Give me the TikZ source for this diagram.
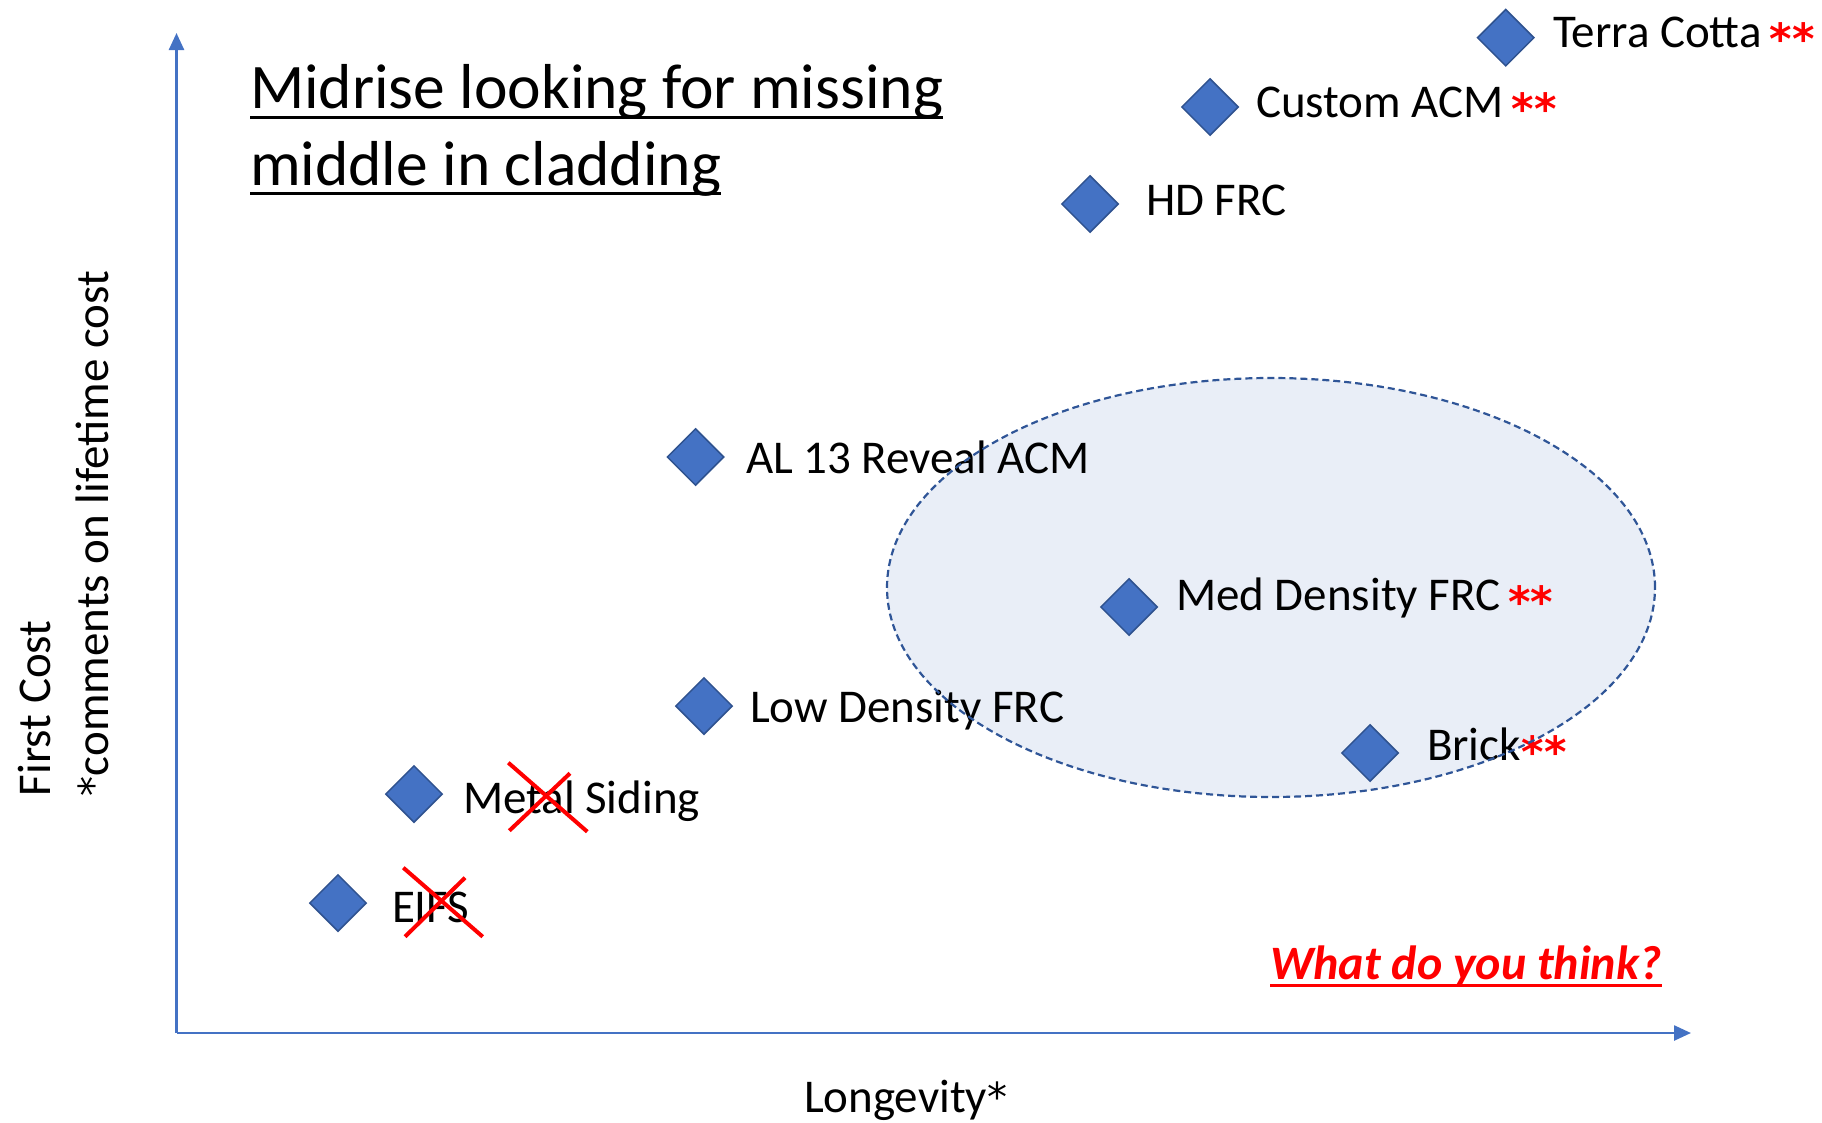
\documentclass[tikz,border=0pt]{standalone}
\usepackage{fontspec}
\usepackage{graphicx}
\setmainfont{Carlito}
\newfontfamily\starfont{DejaVu Sans}
\usetikzlibrary{shapes.geometric,arrows.meta}

\definecolor{ptfill}{HTML}{4472C4}
\definecolor{ptline}{HTML}{2F528F}
\definecolor{axisblue}{HTML}{4472C4}
\definecolor{zonefill}{HTML}{E9EEF7}
\definecolor{zoneline}{HTML}{2F5597}
\definecolor{hotred}{HTML}{FF0000}

% bold red double asterisk, a heavier glyph set a little lower than the text's own
\newcommand\redstars{\textcolor{hotred}{\raisebox{-7pt}{\fontsize{43}{43}\starfont\bfseries **}}}
% plain asterisk used in the axis titles
\newcommand\plainstar{\raisebox{1pt}{\fontsize{40}{40}\starfont *}}

\tikzset{
  pt/.style={diamond, aspect=1, minimum width=57pt, minimum height=57pt,
    inner sep=0pt, fill=ptfill, draw=ptline, line width=1.5pt},
  lbl/.style={anchor=base west, inner sep=0pt, outer sep=0pt,
    font=\fontsize{47}{57}\selectfont, text=black},
  ttl/.style={anchor=base west, inner sep=0pt, outer sep=0pt,
    font=\fontsize{63.5}{77}\selectfont, text=black},
  axisline/.style={draw=axisblue, line width=2.5pt,
    -{Triangle[length=17pt,width=15pt]}},
  strike/.style={draw=hotred, line width=4pt},
  zoneborder/.style={draw=zoneline, line width=2.2pt, dash pattern=on 7pt off 4pt},
}

\begin{document}
\begin{tikzpicture}[x=1pt,y=-1pt]
\useasboundingbox (0,0) rectangle (1822,1122);

% shaded target region (fill only; its outline goes on top later)
\node[ellipse, fill=zonefill, inner sep=0pt, minimum width=768pt,
      minimum height=419pt] (zone) at (1271,587.5) {};

% axes
\coordinate (origin) at (176.5,1033);
\coordinate (ytop) at (176.5,33);
\coordinate (xend) at (1691,1033);
\draw[axisline] (origin) -- (ytop);
\draw[axisline] (origin) -- (xend);

% axis titles
\node[lbl] (xlab) at (804,1112) {Longevity\plainstar};
\node[lbl, rotate=90] (ylab1) at (50,796) {First Cost};
\node[lbl, rotate=90] (ylab2) at (108,796) {\plainstar comments on lifetime cost};

% heading
\node[ttl] (t1) at (250,108) {Midrise looking for missing};
\node[ttl] (t2) at (250,185) {middle in cladding};
\draw[line width=3pt] ([yshift=-9pt]t1.base west) -- ([yshift=-9pt]t1.base east);
\draw[line width=3pt] ([yshift=-8pt]t2.base west) -- ([yshift=-8pt]t2.base east);

% cladding options
\node[pt] (terra) at (1505.7,37.7) {};
\node[lbl] (terraL) at (1553,47) {Terra Cotta\hspace{8pt}\redstars};

\node[pt] (custom) at (1210,107) {};
\node[lbl] (customL) at (1256,117) {Custom ACM\hspace{8pt}\redstars};

\node[pt] (hd) at (1090,204) {};
\node[lbl] (hdL) at (1146,215) {HD FRC};

\node[pt] (al) at (695.6,457) {};
\node[lbl] (alL) at (746,473) {AL 13 Reveal ACM};

\node[pt] (med) at (1129,607) {};
\node[lbl] (medL) at (1176,610) {Med Density FRC\hspace{8pt}\redstars};

\node[pt] (low) at (704,706) {};
\node[lbl] (lowL) at (750,722) {Low Density FRC};

\node[pt] (brick) at (1370,753) {};
\node[lbl] (brickL) at (1427,760) {Brick\hspace{1pt}\redstars};

\node[pt] (metal) at (414,794) {};
\node[lbl] (metalL) at (463,813) {Metal Siding};

\node[pt] (eifs) at (338,903) {};
\node[lbl] (eifsL) at (392,922) {EIFS};

% ruled-out options
\coordinate (mA1) at (508.3,762.7);
\coordinate (mA2) at (587.3,831.7);
\coordinate (mB1) at (509.3,830.7);
\coordinate (mB2) at (570,773.3);
\draw[strike] (mA1) -- (mA2);
\draw[strike] (mB1) -- (mB2);

\coordinate (eA1) at (403.3,867.7);
\coordinate (eA2) at (482.7,936.7);
\coordinate (eB1) at (405,936.7);
\coordinate (eB2) at (465,877.7);
\draw[strike] (eA1) -- (eA2);
\draw[strike] (eB1) -- (eB2);

% dashed outline of the target region
\draw[zoneborder] (zone.center) ellipse [x radius=384pt, y radius=209.5pt];

% call to action
\node[lbl, font=\fontsize{48}{58}\selectfont\bfseries\itshape, text=hotred]
  (ask) at (1270,979) {What do you think?};
\draw[hotred, line width=3pt] ([yshift=-6pt]ask.base west) -- ([yshift=-6pt]ask.base east);
\end{tikzpicture}
\end{document}
